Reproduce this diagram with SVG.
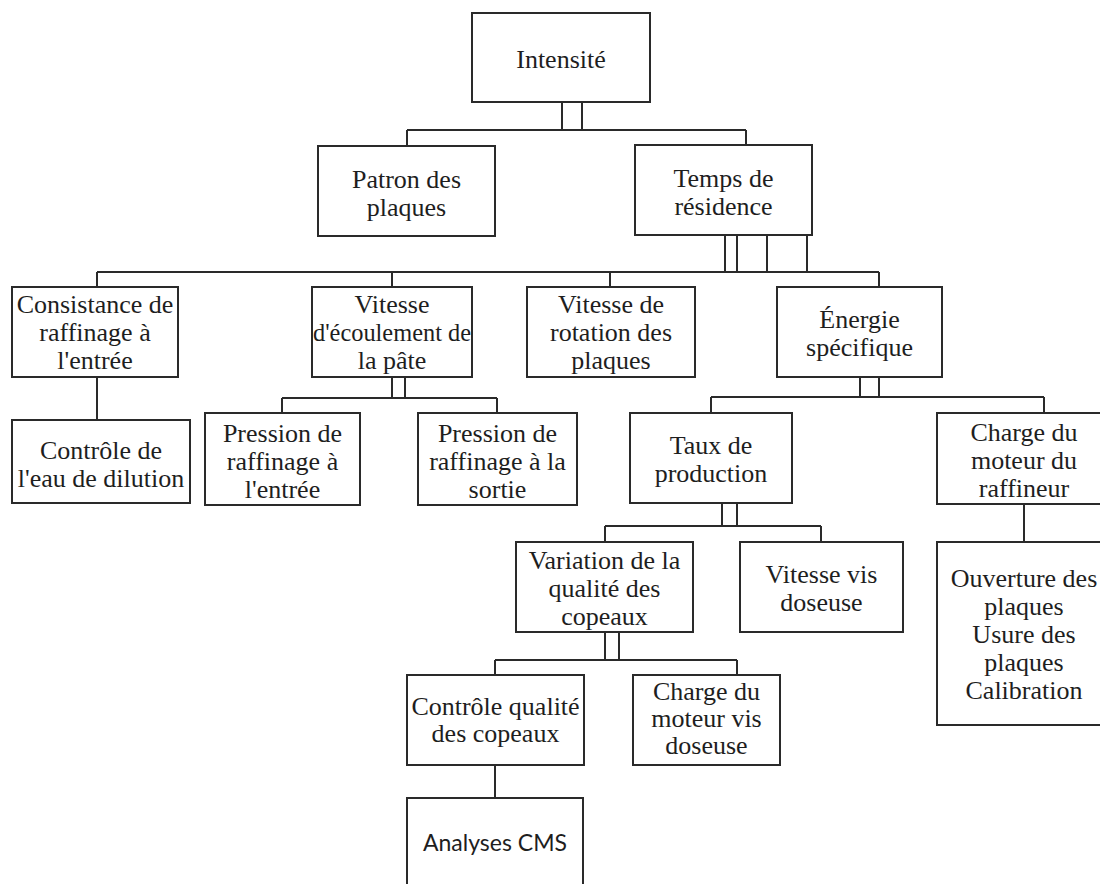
<svg xmlns="http://www.w3.org/2000/svg" width="1100" height="884" viewBox="0 0 1100 884">
<style>
.box{fill:#fff;stroke:#2a2a2a;stroke-width:2}
.ln{fill:none;stroke:#2a2a2a;stroke-width:2}
.t{font-family:"Liberation Serif","Times New Roman",serif;font-size:26px;fill:#1e1e1e;text-anchor:middle}
.s{font-family:Lato,"Open Sans",sans-serif;font-size:23px;fill:#1e1e1e;text-anchor:middle}
</style>
<rect width="1100" height="884" fill="#fff"/>
<g id="connectors">
<path class="ln" d="M562 102V130M582 102V130M407 130H746M407 130V146M746 130V145"/>
<path class="ln" d="M725 235V272M737 235V272M767 235V272M807 235V272M97 272H879M97 272V287M392 272V287M610 272V287M879 272V287"/>
<path class="ln" d="M97 377V420"/>
<path class="ln" d="M392 377V398M405 377V398M282 398H497M282 398V413M497 398V413"/>
<path class="ln" d="M860 377V397M879 377V397M711 397H1044M711 397V413M1044 397V413"/>
<path class="ln" d="M1024 504V542"/>
<path class="ln" d="M722 503V526M737 503V526M605 526H821M605 526V542M821 526V542"/>
<path class="ln" d="M605 632V660M619 632V660M495 660H737M495 660V675M737 660V675"/>
<path class="ln" d="M495 765V798"/>
</g>
<g id="intensite"><rect class="box" x="472" y="13" width="178" height="89"/><text class="t" x="561" y="68">Intensité</text></g>
<g id="patron"><rect class="box" x="318" y="146" width="177" height="90"/><text class="t" x="406.5" y="188">Patron des</text><text class="t" x="406.5" y="216">plaques</text></g>
<g id="temps"><rect class="box" x="635" y="145" width="177" height="90"/><text class="t" x="723.5" y="187">Temps de</text><text class="t" x="723.5" y="215">résidence</text></g>
<g id="consistance"><rect class="box" x="12" y="287" width="166" height="90"/><text class="t" x="95" y="313">Consistance de</text><text class="t" x="95" y="341">raffinage à</text><text class="t" x="95" y="369">l'entrée</text></g>
<g id="vitesse-ecoulement"><rect class="box" x="312" y="287" width="160" height="90"/><text class="t" x="392" y="313">Vitesse</text><text class="t" x="392" y="341" textLength="158" lengthAdjust="spacingAndGlyphs">d'écoulement de</text><text class="t" x="392" y="369">la pâte</text></g>
<g id="vitesse-rotation"><rect class="box" x="527" y="287" width="168" height="90"/><text class="t" x="611" y="313">Vitesse de</text><text class="t" x="611" y="341">rotation des</text><text class="t" x="611" y="369">plaques</text></g>
<g id="energie"><rect class="box" x="777" y="287" width="165" height="90"/><text class="t" x="859.5" y="328">Énergie</text><text class="t" x="859.5" y="356">spécifique</text></g>
<g id="controle-eau"><rect class="box" x="12" y="420" width="178" height="83"/><text class="t" x="101" y="459">Contrôle de</text><text class="t" x="101" y="487">l'eau de dilution</text></g>
<g id="pression-entree"><rect class="box" x="205" y="413" width="155" height="92"/><text class="t" x="282.5" y="442">Pression de</text><text class="t" x="282.5" y="470">raffinage à</text><text class="t" x="282.5" y="498">l'entrée</text></g>
<g id="pression-sortie"><rect class="box" x="418" y="413" width="159" height="92"/><text class="t" x="497.5" y="442">Pression de</text><text class="t" x="497.5" y="470">raffinage à la</text><text class="t" x="497.5" y="498">sortie</text></g>
<g id="taux"><rect class="box" x="630" y="413" width="162" height="90"/><text class="t" x="711" y="454">Taux de</text><text class="t" x="711" y="482">production</text></g>
<g id="charge-raffineur"><rect class="box" x="937" y="413" width="174" height="91"/><text class="t" x="1024" y="441">Charge du</text><text class="t" x="1024" y="469">moteur du</text><text class="t" x="1024" y="497">raffineur</text></g>
<g id="variation"><rect class="box" x="516" y="542" width="177" height="90"/><text class="t" x="604.5" y="569">Variation de la</text><text class="t" x="604.5" y="597">qualité des</text><text class="t" x="604.5" y="625">copeaux</text></g>
<g id="vitesse-vis"><rect class="box" x="740" y="542" width="163" height="90"/><text class="t" x="821.5" y="583">Vitesse vis</text><text class="t" x="821.5" y="611">doseuse</text></g>
<g id="ouverture"><rect class="box" x="937" y="542" width="174" height="183"/><text class="t" x="1024" y="587">Ouverture des</text><text class="t" x="1024" y="615">plaques</text><text class="t" x="1024" y="643">Usure des</text><text class="t" x="1024" y="671">plaques</text><text class="t" x="1024" y="699">Calibration</text></g>
<g id="controle-qualite"><rect class="box" x="407" y="675" width="177" height="90"/><text class="t" x="495.5" y="715">Contrôle qualité</text><text class="t" x="495.5" y="742">des copeaux</text></g>
<g id="charge-vis"><rect class="box" x="633" y="675" width="147" height="90"/><text class="t" x="706.5" y="700">Charge du</text><text class="t" x="706.5" y="727">moteur vis</text><text class="t" x="706.5" y="754">doseuse</text></g>
<g id="analyses"><rect class="box" x="407" y="798" width="176" height="110"/><text class="s" x="495" y="851">Analyses CMS</text></g>
</svg>
